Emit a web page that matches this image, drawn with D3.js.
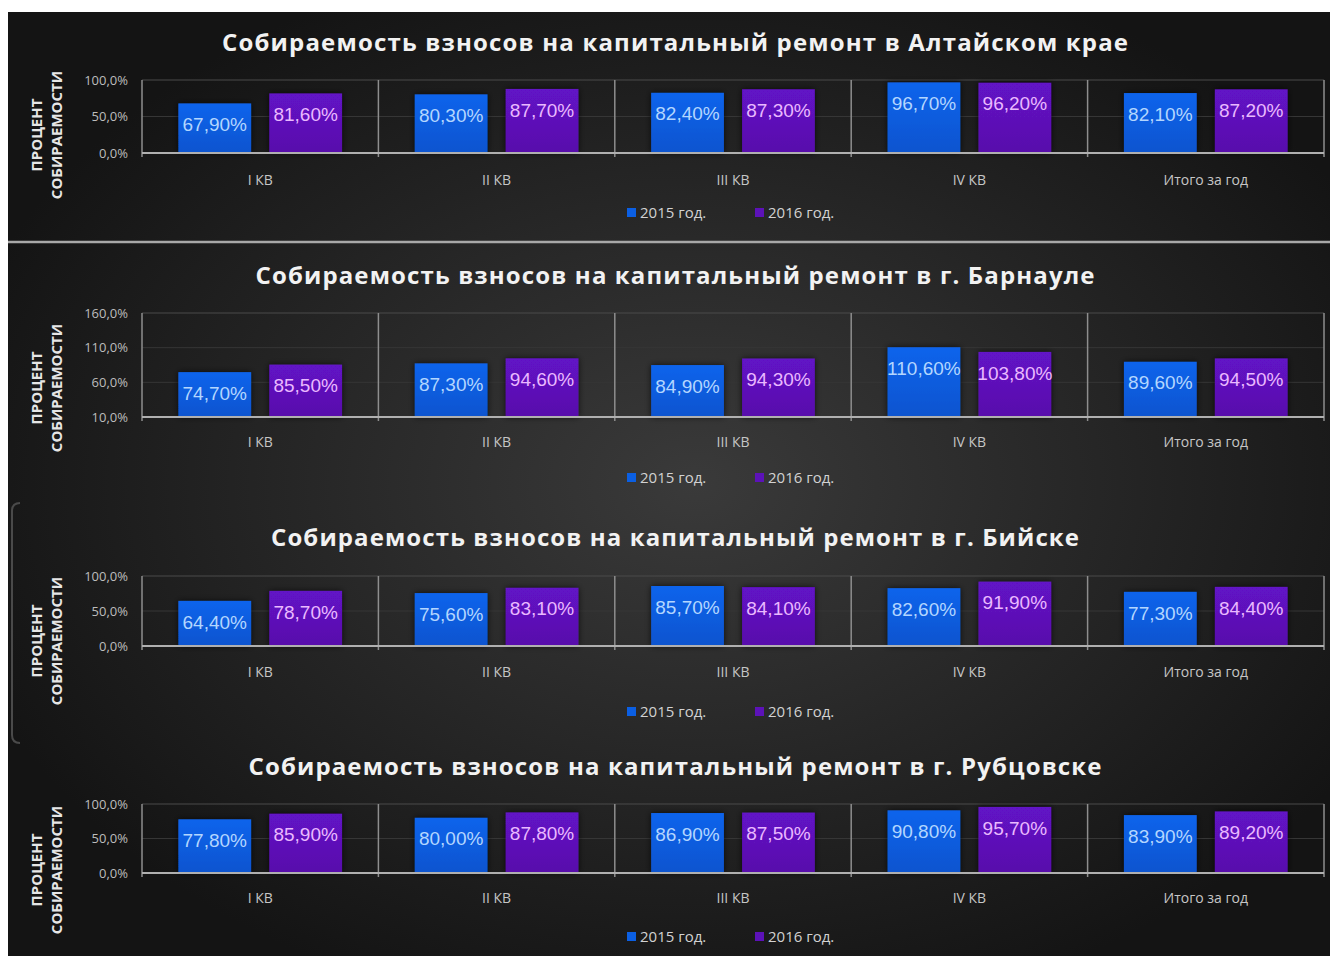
<!DOCTYPE html>
<html>
<head>
<meta charset="utf-8">
<script src="https://cdn.jsdelivr.net/npm/d3@7"></script>
<style>
  body { margin: 0; background: #fff; }
  svg { display: block; }
</style>
</head>
<body>
<svg id="chart" width="1330" height="956"></svg>
<script>
'use strict';

// data
const categories = ['I КВ', 'II КВ', 'III КВ', 'IV КВ', 'Итого за год'];
const seriesNames = ['2015 год.', '2016 год.'];

const titles = [
  'Собираемость взносов на капитальный ремонт в Алтайском крае',
  'Собираемость взносов на капитальный ремонт в г. Барнауле',
  'Собираемость взносов на капитальный ремонт в г. Бийске',
  'Собираемость взносов на капитальный ремонт в г. Рубцовске'
];

const krai2015 = [67.9, 80.3, 82.4, 96.7, 82.1];
const krai2016 = [81.6, 87.7, 87.3, 96.2, 87.2];
const barnaul2015 = [74.7, 87.3, 84.9, 110.6, 89.6];
const barnaul2016 = [85.5, 94.6, 94.3, 103.8, 94.5];
const biysk2015 = [64.4, 75.6, 85.7, 82.6, 77.3];
const biysk2016 = [78.7, 83.1, 84.1, 91.9, 84.4];
const rubtsovsk2015 = [77.8, 80.0, 86.9, 90.8, 83.9];
const rubtsovsk2016 = [85.9, 87.8, 87.5, 95.7, 89.2];

const ticksDefault = [0, 50, 100];
const ticksBarnaul = [10, 60, 110, 160];

const axisTitle = ['ПРОЦЕНТ', 'СОБИРАЕМОСТИ'];

// layout of the four panels
const panels = [
  {title: titles[0], s: [krai2015, krai2016], ticks: ticksDefault, titleY: 43, top: 80, bottom: 153, catY: 180, legendY: 213, axisY: 135, titleLen: 906},
  {title: titles[1], s: [barnaul2015, barnaul2016], ticks: ticksBarnaul, titleY: 276, top: 313, bottom: 417, catY: 442, legendY: 478, axisY: 388, titleLen: 839},
  {title: titles[2], s: [biysk2015, biysk2016], ticks: ticksDefault, titleY: 538, top: 576, bottom: 646, catY: 672, legendY: 712, axisY: 641, titleLen: 808},
  {title: titles[3], s: [rubtsovsk2015, rubtsovsk2016], ticks: ticksDefault, titleY: 767, top: 804, bottom: 873, catY: 898, legendY: 937, axisY: 870, titleLen: 853}
];

const colors = ['url(#gBlue)', 'url(#gPurple)'];
const swatch = ['#0b5fe3', '#5c12b8'];
const labelColors = ['#b3d6ff', '#eab9ff'];
const left = 142, right = 1324;

const svg = d3.select('#chart');
const defs = svg.append('defs');

const bg = defs.append('radialGradient')
    .attr('id', 'bg')
    .attr('cx', '52%').attr('cy', '50%').attr('r', '58%');
bg.append('stop').attr('offset', '0%').attr('stop-color', '#3a3a3a');
bg.append('stop').attr('offset', '100%').attr('stop-color', '#141414');

const gradient = (id, c0, c1) => {
  const g = defs.append('linearGradient')
      .attr('id', id)
      .attr('x1', 0).attr('y1', 0).attr('x2', 0).attr('y2', 1);
  g.append('stop').attr('offset', '0%').attr('stop-color', c0);
  g.append('stop').attr('offset', '100%').attr('stop-color', c1);
};
gradient('gBlue', '#0c64ec', '#0a54cf');
gradient('gPurple', '#6212c6', '#5810ab');

const shadow = defs.append('filter')
    .attr('id', 'shadow')
    .attr('x', '-20%').attr('y', '-20%').attr('width', '140%').attr('height', '140%');
shadow.append('feDropShadow')
    .attr('dx', 0).attr('dy', 0)
    .attr('stdDeviation', 3)
    .attr('flood-color', '#000')
    .attr('flood-opacity', 0.7);

svg.append('rect')
    .attr('x', 8).attr('y', 12)
    .attr('width', 1322).attr('height', 944)
    .attr('fill', 'url(#bg)');

// separator under the first panel
svg.append('line')
    .attr('x1', 8).attr('x2', 1330)
    .attr('y1', 242).attr('y2', 242)
    .attr('stroke', '#a8a8a8')
    .attr('stroke-width', 2.5);

// leftover frame edge next to the third panel
svg.append('path')
    .attr('d', 'M20,503 Q12,503 12,511 L12,735 Q12,743 20,743')
    .attr('fill', 'none')
    .attr('stroke', '#4a4a4a')
    .attr('stroke-width', 2);

const x0 = d3.scaleBand()
    .domain(categories)
    .range([left, right])
    .padding(0);

const x1 = d3.scaleBand()
    .domain(seriesNames)
    .range([0, x0.bandwidth()])
    .paddingInner(0.2)
    .paddingOuter(0.4);

const fmtTick = d => d3.format('.1f')(d).replace('.', ',') + '%';
const fmtValue = d => d3.format('.2f')(d).replace('.', ',') + '%';

function drawPanel(p) {
  const g = svg.append('g');

  const y = d3.scaleLinear()
      .domain(d3.extent(p.ticks))
      .range([p.bottom, p.top]);

  g.append('text')
      .attr('x', 675)
      .attr('y', p.titleY)
      .attr('dy', '0.35em')
      .attr('text-anchor', 'middle')
      .attr('textLength', p.titleLen)
      .attr('lengthAdjust', 'spacing')
      .style('font', 'bold 24px "Open Sans", sans-serif')
      .style('fill', '#f2f2f2')
      .text(p.title);

  // horizontal grid
  g.append('g')
    .selectAll('line')
    .data(p.ticks.slice(1))
    .join('line')
      .attr('x1', left).attr('x2', right)
      .attr('y1', d => y(d)).attr('y2', d => y(d))
      .attr('stroke', (d, i) => i === p.ticks.length - 2 ? '#4a4a4a' : '#363636')
      .attr('stroke-width', 1);

  // category dividers
  const edges = categories.map(c => x0(c)).concat([right]);
  g.append('g')
    .selectAll('line')
    .data(edges)
    .join('line')
      .attr('x1', d => d).attr('x2', d => d)
      .attr('y1', p.top).attr('y2', p.bottom + 4)
      .attr('stroke', '#8e8e8e')
      .attr('stroke-width', 1.5);

  const yAxis = g.append('g')
      .attr('transform', 'translate(' + left + ',0)')
      .call(d3.axisLeft(y).tickValues(p.ticks).tickFormat(fmtTick).tickSize(0).tickPadding(14));
  yAxis.select('.domain').remove();
  yAxis.selectAll('text')
      .style('font', '13px "Open Sans", sans-serif')
      .style('fill', '#bdbdbd');

  // bars
  const groups = g.append('g')
    .selectAll('g')
    .data(categories)
    .join('g')
      .attr('transform', d => 'translate(' + x0(d) + ',0)');

  const cells = groups.selectAll('g')
    .data((c, ci) => seriesNames.map((s, si) => ({s, si, v: p.s[si][ci]})))
    .join('g');

  cells.append('rect')
      .attr('x', d => x1(d.s))
      .attr('y', d => y(d.v))
      .attr('width', x1.bandwidth())
      .attr('height', d => y.range()[0] - y(d.v))
      .attr('fill', d => colors[d.si])
      .attr('filter', 'url(#shadow)');

  cells.append('text')
      .attr('x', d => x1(d.s) + x1.bandwidth() / 2)
      .attr('y', d => y(d.v) + 21)
      .attr('dy', '0.35em')
      .attr('text-anchor', 'middle')
      .style('font', '19px "Liberation Sans", Arial, sans-serif')
      .style('fill', d => labelColors[d.si])
      .text(d => fmtValue(d.v));

  // baseline
  g.append('line')
      .attr('x1', left).attr('x2', right)
      .attr('y1', p.bottom).attr('y2', p.bottom)
      .attr('stroke', '#b0b0b0')
      .attr('stroke-width', 2);

  // category labels
  g.append('g')
    .selectAll('text')
    .data(categories)
    .join('text')
      .attr('x', d => x0(d) + x0.bandwidth() / 2)
      .attr('y', p.catY)
      .attr('dy', '0.35em')
      .attr('text-anchor', 'middle')
      .style('font', '14px "Open Sans", sans-serif')
      .style('fill', '#c6c6c6')
      .text(d => d);

  // axis title
  const at = g.append('text')
      .attr('transform', 'translate(0,' + p.axisY + ') rotate(-90)')
      .attr('text-anchor', 'middle')
      .style('font', 'bold 15px "Open Sans", sans-serif')
      .style('fill', '#e6e6e6');
  at.selectAll('tspan')
    .data(axisTitle)
    .join('tspan')
      .attr('x', 0)
      .attr('y', (d, i) => 42 + i * 20)
      .text(d => d);

  // legend
  const legend = g.append('g')
      .attr('transform', 'translate(' + ((left + right) / 2) + ',' + p.legendY + ')');
  const items = legend.selectAll('g')
    .data(seriesNames)
    .join('g')
      .attr('transform', (d, i) => 'translate(' + (i === 0 ? -106 : 22) + ',0)');
  items.append('rect')
      .attr('x', 0).attr('y', -5)
      .attr('width', 9).attr('height', 9)
      .attr('fill', (d, i) => swatch[i]);
  items.append('text')
      .attr('x', 13)
      .attr('dy', '0.35em')
      .style('font', '15px "Open Sans", sans-serif')
      .style('fill', '#d2d2d2')
      .text(d => d);
}

panels.forEach(drawPanel);
</script>
</body>
</html>
